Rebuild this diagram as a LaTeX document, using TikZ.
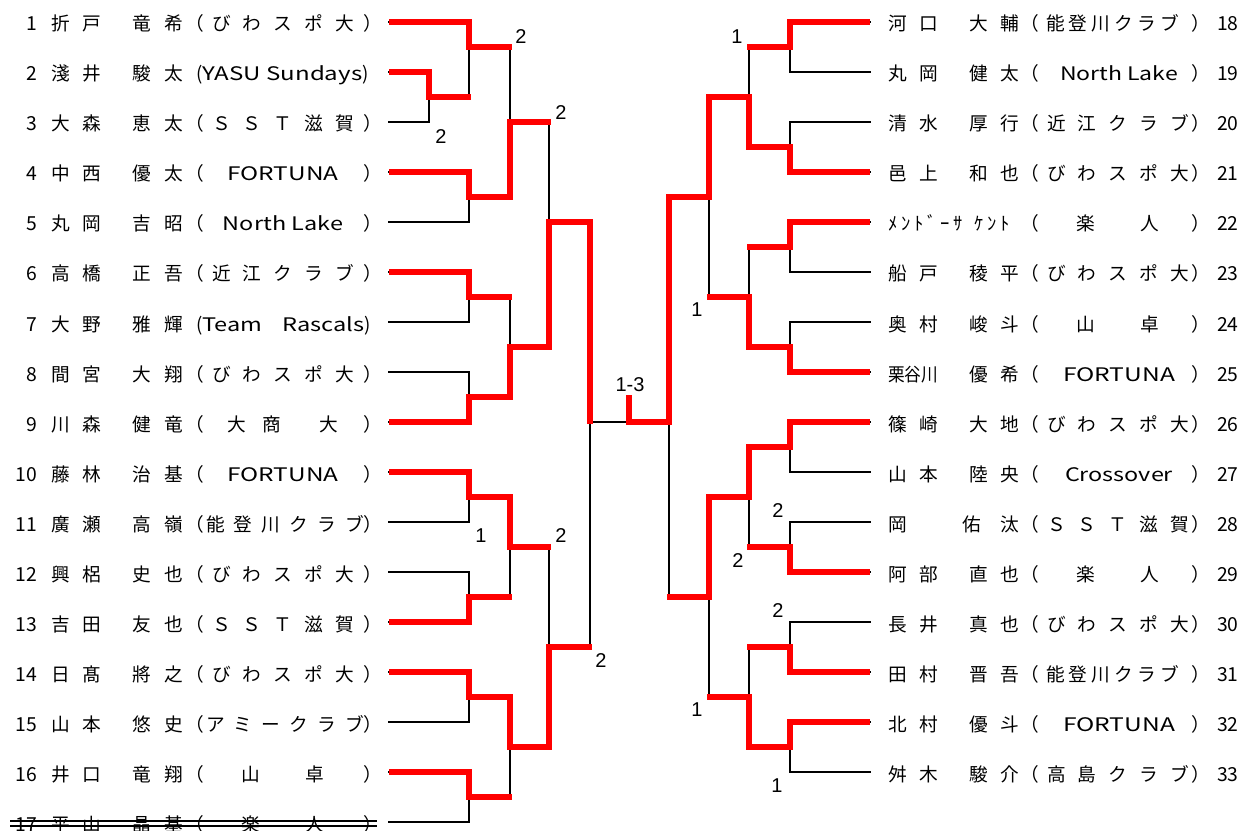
\documentclass[tikz,border=0pt]{standalone}
\usepackage{fontspec}
\usepackage{graphicx}
\setmainfont{Noto Sans CJK JP}
\newfontfamily\arf{Liberation Sans}
\newdimen\px \px=0.75pt
\newcommand\latt{\fontsize{14pt}{16pt}\selectfont}
\newcommand\latn{\fontsize{14.5pt}{16pt}\selectfont}
\tikzset{
  txt/.style={inner sep=0pt, outer sep=0pt, font=\fontsize{14pt}{16pt}\selectfont},
  score/.style={inner sep=0pt, outer sep=0pt, font=\arf\fontsize{15pt}{17pt}\selectfont},
  blk/.style={line width=2pt, line cap=rect, black},
  win/.style={line width=5pt, red, line join=miter, shorten >=-1.5pt},
  strike/.style={line width=0.8pt, black},
}
% left side rows
\newcommand\LN[4]{%
  \node[txt,anchor=base east] (num#1) at (37,{31+50*(#1-1)}) {\latn #2};
  \node[txt,anchor=base west] (sur#1) at (51,{31+50*(#1-1)}) {\makebox[50\px][s]{#3}};
  \node[txt,anchor=base west] (giv#1) at (132,{31+50*(#1-1)}) {\makebox[51\px][s]{#4}};}
\newcommand\LP[1]{%
  \node[txt,anchor=base west] (lp#1) at (185,{31+50*(#1-1)}) {（};
  \node[txt,anchor=base west] (rp#1) at (363,{31+50*(#1-1)}) {）};}
\newcommand\LT[4]{%
  \node[txt,anchor=base west] (tm#1) at (#2,{31+50*(#1-1)}) {\makebox[#3\px][s]{#4}};}
\newcommand\LL[3]{%
  \node[txt,anchor=base] (tm#1) at (283,{31+50*(#1-1)}) {\resizebox{#3\px}{\height}{\latt #2}};}
% right side rows
\newcommand\RN[4]{%
  \node[txt,anchor=base west] (num#1) at (1217,{31+50*(#1-18)}) {\latn #2};
  \node[txt,anchor=base west] (sur#1) at (888,{31+50*(#1-18)}) {\makebox[50\px][s]{#3}};
  \node[txt,anchor=base west] (giv#1) at (969,{31+50*(#1-18)}) {\makebox[50\px][s]{#4}};}
\newcommand\RNX[4]{%
  \node[txt,anchor=base west] (num#1) at (1217,{31+50*(#1-18)}) {\latn #2};
  \node[txt,anchor=base west] (sur#1) at (888,{31+50*(#1-18)}) {\makebox[#3\px][s]{#4}};}
\newcommand\RP[1]{%
  \node[txt,anchor=base west] (lp#1) at (1020,{31+50*(#1-18)}) {（};
  \node[txt,anchor=base west] (rp#1) at (1191,{31+50*(#1-18)}) {）};}
\newcommand\RT[4]{%
  \node[txt,anchor=base west] (tm#1) at (#2,{31+50*(#1-18)}) {\makebox[#3\px][s]{#4}};}
\newcommand\RL[3]{%
  \node[txt,anchor=base] (tm#1) at (1119,{31+50*(#1-18)}) {\resizebox{#3\px}{\height}{\latt #2}};}
\newcommand\BSP{び\hfill わ\hfill ス\hfill ポ\hfill 大}
\newcommand\SST{Ｓ\hfill Ｓ\hfill Ｔ\hfill 滋\hfill 賀}
\newcommand\NOT{能\hfill 登\hfill 川\hfill ク\hfill ラ\hfill ブ}
\newcommand\TWO[2]{\hfill\hfill #1\hfill\hfill\hfill #2\hfill\hfill}
\begin{document}
\begin{tikzpicture}[x=0.75pt,y=-0.75pt]
\useasboundingbox (0,0) rectangle (1250,831);
\fill[white] (0,0) rectangle (1250,831);

% ---------- texts, left ----------
\LN{1}{1}{折\hfill 戸}{竜\hfill 希}\LP{1}\LT{1}{212}{142}{\BSP}
\LN{2}{2}{淺\hfill 井}{駿\hfill 太}
\node[txt,anchor=base west] (tm2) at (196,81) {\latt(\resizebox{160\px}{\height}{YASU Sundays})};
\LN{3}{3}{大\hfill 森}{恵\hfill 太}\LP{3}\LT{3}{212}{142}{\SST}
\LN{4}{4}{中\hfill 西}{優\hfill 太}\LP{4}\LL{4}{FORTUNA}{111}
\LN{5}{5}{丸\hfill 岡}{吉\hfill 昭}\LP{5}\LL{5}{North Lake}{120}
\LN{6}{6}{高\hfill 橋}{正\hfill 吾}\LP{6}\LT{6}{212}{142}{近\hfill 江\hfill ク\hfill ラ\hfill ブ}
\LN{7}{7}{大\hfill 野}{雅\hfill 輝}
\node[txt,anchor=base west] (tm7) at (196,331) {\latt(\makebox[162\px][s]{\resizebox{60\px}{\height}{Team}\hfill\resizebox{82\px}{\height}{Rascals}})};
\LN{8}{8}{間\hfill 宮}{大\hfill 翔}\LP{8}\LT{8}{212}{142}{\BSP}
\LN{9}{9}{川\hfill 森}{健\hfill 竜}\LP{9}\LT{9}{213}{140}{\hspace*{14\px}大\hspace*{17\px}商\hspace*{38\px}大\hfill}
\LN{10}{10}{藤\hfill 林}{治\hfill 基}\LP{10}\LL{10}{FORTUNA}{111}
\LN{11}{11}{廣\hfill 瀬}{高\hfill 嶺}\LP{11}\LT{11}{206}{158}{\NOT}
\LN{12}{12}{興\hfill 梠}{史\hfill 也}\LP{12}\LT{12}{212}{142}{\BSP}
\LN{13}{13}{吉\hfill 田}{友\hfill 也}\LP{13}\LT{13}{212}{142}{\SST}
\LN{14}{14}{日\hfill 髙}{將\hfill 之}\LP{14}\LT{14}{212}{142}{\BSP}
\LN{15}{15}{山\hfill 本}{悠\hfill 史}\LP{15}\LT{15}{206}{158}{ア\hfill ミ\hfill ー\hfill ク\hfill ラ\hfill ブ}
\LN{16}{16}{井\hfill 口}{竜\hfill 翔}\LP{16}\LT{16}{212}{142}{\TWO{山}{卓}}
\LN{17}{17}{平\hfill 山}{晶\hfill 基}\LP{17}\LT{17}{212}{142}{\TWO{楽}{人}}
\draw[strike] (10,821) -- (377,821);
\draw[strike] (10,826) -- (377,826);

% ---------- texts, right ----------
\RN{18}{18}{河\hfill 口}{大\hfill 輔}\RP{18}\RT{18}{1046}{133}{\NOT}
\RN{19}{19}{丸\hfill 岡}{健\hfill 太}\RP{19}\RL{19}{North Lake}{118}
\RN{20}{20}{清\hfill 水}{厚\hfill 行}\RP{20}\RT{20}{1047}{142}{近\hfill 江\hfill ク\hfill ラ\hfill ブ}
\RN{21}{21}{邑\hfill 上}{和\hfill 也}\RP{21}\RT{21}{1047}{142}{\BSP}
\RNX{22}{22}{122}{ﾒ\hfill ﾝ\hfill ﾄ\hfill ﾞ\hfill ｰ\hfill ｻ\hfill\hbox to 4\px{}\hfill ｹ\hfill ﾝ\hfill ﾄ}\RP{22}\RT{22}{1047}{142}{\TWO{楽}{人}}
\RN{23}{23}{船\hfill 戸}{稜\hfill 平}\RP{23}\RT{23}{1047}{142}{\BSP}
\RN{24}{24}{奥\hfill 村}{峻\hfill 斗}\RP{24}\RT{24}{1047}{142}{\TWO{山}{卓}}
\RN{25}{25}{\resizebox{50\px}{\height}{栗谷川}}{優\hfill 希}\RP{25}\RL{25}{FORTUNA}{112}
\RN{26}{26}{篠\hfill 崎}{大\hfill 地}\RP{26}\RT{26}{1047}{142}{\BSP}
\RN{27}{27}{山\hfill 本}{陸\hfill 央}\RP{27}\RL{27}{Crossover}{108}
\RNX{28}{28}{131}{岡\hfill\hbox to 18\px{}\hfill 佑\hfill 汰}\RP{28}\RT{28}{1047}{142}{\SST}
\RN{29}{29}{阿\hfill 部}{直\hfill 也}\RP{29}\RT{29}{1047}{142}{\TWO{楽}{人}}
\RN{30}{30}{長\hfill 井}{真\hfill 也}\RP{30}\RT{30}{1047}{142}{\BSP}
\RN{31}{31}{田\hfill 村}{晋\hfill 吾}\RP{31}\RT{31}{1046}{133}{\NOT}
\RN{32}{32}{北\hfill 村}{優\hfill 斗}\RP{32}\RL{32}{FORTUNA}{112}
\RN{33}{33}{舛\hfill 木}{駿\hfill 介}\RP{33}\RT{33}{1047}{142}{高\hfill 島\hfill ク\hfill ラ\hfill ブ}

% ---------- line start points ----------
\foreach \i in {1,...,17} \coordinate (a\i) at (389,{22+50*(\i-1)});
\foreach \i in {18,...,33} \coordinate (a\i) at (870,{22+50*(\i-18)});

% ---------- black bracket, left ----------
\foreach \i in {1,4,5,...,17} \draw[blk] (a\i) -- ++(80,0);
\draw[blk] (a2) -- ++(40,0);
\draw[blk] (a3) -- ++(40,0);
\draw[blk] (429,72) -- (429,122);
\draw[blk] (429,97) -- (469,97);
\foreach \a/\b/\m in {22/97/47,172/222/197,272/322/297,372/422/397,472/522/497,572/622/597,672/722/697,772/822/797}
  {\draw[blk] (469,\a) -- (469,\b); \draw[blk] (469,\m) -- (510,\m);}
\foreach \a/\b/\m in {47/197/122,297/397/347,497/597/547,697/797/747}
  {\draw[blk] (510,\a) -- (510,\b); \draw[blk] (510,\m) -- (549,\m);}
\foreach \a/\b/\m in {122/347/222,547/747/647}
  {\draw[blk] (549,\a) -- (549,\b); \draw[blk] (549,\m) -- (590,\m);}
\draw[blk] (590,222) -- (590,647);
\draw[blk] (590,422) -- (669,422);

% ---------- black bracket, right ----------
\foreach \i in {18,...,33} \draw[blk] (a\i) -- ++(-80,0);
\foreach \a/\b/\m in {22/72/47,122/172/147,222/272/247,322/372/347,422/472/447,522/572/547,622/672/647,722/772/747}
  {\draw[blk] (790,\a) -- (790,\b); \draw[blk] (790,\m) -- (749,\m);}
\foreach \a/\b/\m in {47/147/97,247/347/297,447/547/497,647/747/697}
  {\draw[blk] (749,\a) -- (749,\b); \draw[blk] (749,\m) -- (709,\m);}
\foreach \a/\b/\m in {97/297/197,497/697/597}
  {\draw[blk] (709,\a) -- (709,\b); \draw[blk] (709,\m) -- (669,\m);}
\draw[blk] (669,197) -- (669,597);

% ---------- winners, left ----------
\draw[win] (a1) -- (469,22) -- (469,47) -- (510,47);
\draw[win] (a2) -- (429,72) -- (429,97) -- (469,97);
\draw[win] (a4) -- (469,172) -- (469,197) -- (510,197) -- (510,122) -- (549,122);
\draw[win] (a6) -- (469,272) -- (469,297) -- (510,297);
\draw[win] (a9) -- (469,422) -- (469,397) -- (510,397) -- (510,347) -- (549,347) -- (549,222) -- (590,222) -- (590,422);
\draw[win] (a10) -- (469,472) -- (469,497) -- (510,497) -- (510,547) -- (549,547);
\draw[win] (a13) -- (469,622) -- (469,597) -- (510,597);
\draw[win] (a14) -- (469,672) -- (469,697) -- (510,697) -- (510,747) -- (549,747) -- (549,647) -- (590,647);
\draw[win] (a16) -- (469,772) -- (469,797) -- (510,797);

% ---------- winners, right ----------
\draw[win] (a18) -- (790,22) -- (790,47) -- (749,47);
\draw[win] (a21) -- (790,172) -- (790,147) -- (749,147) -- (749,97) -- (709,97) -- (709,197) -- (669,197) -- (669,422) -- (629,422) -- (629,397);
\draw[win] (a22) -- (790,222) -- (790,247) -- (749,247);
\draw[win] (a25) -- (790,372) -- (790,347) -- (749,347) -- (749,297) -- (709,297);
\draw[win] (a26) -- (790,422) -- (790,447) -- (749,447) -- (749,497) -- (709,497) -- (709,597) -- (669,597);
\draw[win] (a29) -- (790,572) -- (790,547) -- (749,547);
\draw[win] (a31) -- (790,672) -- (790,647) -- (749,647);
\draw[win] (a32) -- (790,722) -- (790,747) -- (749,747) -- (749,697) -- (709,697);

% ---------- scores ----------
\node[score] (sc1) at (521,37) {2};
\node[score] (sc2) at (441,137) {2};
\node[score] (sc3) at (561,113) {2};
\node[score] (sc4) at (630,385) {1-3};
\node[score] (sc5) at (481,536) {1};
\node[score] (sc6) at (561,536) {2};
\node[score] (sc7) at (601,661) {2};
\node[score] (sc8) at (737,37) {1};
\node[score] (sc9) at (697,310) {1};
\node[score] (sc10) at (778,511) {2};
\node[score] (sc11) at (738,561) {2};
\node[score] (sc12) at (778,611) {2};
\node[score] (sc13) at (697,710) {1};
\node[score] (sc14) at (777,786) {1};
\end{tikzpicture}
\end{document}
